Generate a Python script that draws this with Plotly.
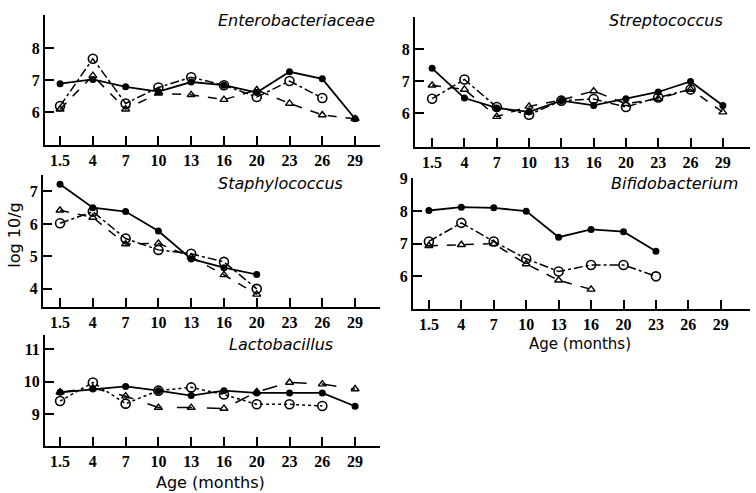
import plotly.graph_objects as go

ages = ["1.5", "4", "7", "10", "13", "16", "20", "23", "26", "29"]

entero_filled = [6.9, 7.03, 6.8, 6.65, 6.95, 6.85, 6.62, 7.27, 7.05, 5.8]
entero_open = [6.2, 7.68, 6.28, 6.78, 7.1, 6.85, 6.48, 6.98, 6.45]
entero_tri = [6.1, 7.15, 6.1, 6.6, 6.55, 6.4, 6.7, 6.28, 5.92, 5.8]

strep_filled = [7.41, 6.48, 6.17, 6.05, 6.4, 6.25, 6.46, 6.67, 7.0, 6.25]
strep_open = [6.46, 7.06, 6.2, 5.96, 6.4, 6.45, 6.2, 6.5, 6.75]
strep_tri = [6.88, 6.75, 5.9, 6.22, 6.42, 6.7, 6.3, 6.46, 6.75, 6.04]

staph_filled = [7.22, 6.5, 6.38, 5.78, 4.92, 4.65, 4.44]
staph_open = [6.02, 6.38, 5.55, 5.2, 5.08, 4.83, 4.0]
staph_tri = [6.42, 6.2, 5.38, 5.4, 4.98, 4.43, 3.83]

bifido_filled = [8.02, 8.12, 8.1, 8.0, 7.2, 7.44, 7.37, 6.77]
bifido_open = [7.07, 7.64, 7.07, 6.54, 6.15, 6.35, 6.35, 6.0]
bifido_tri = [6.94, 6.97, 7.0, 6.38, 5.88, 5.6]

lacto_filled = [9.67, 9.77, 9.85, 9.72, 9.57, 9.72, 9.65, 9.65, 9.65, 9.24]
lacto_open = [9.4, 9.97, 9.32, 9.72, 9.82, 9.6, 9.3, 9.3, 9.25]
lacto_tri = [9.67, 9.8, 9.55, 9.2, 9.2, 9.17, 9.68, 9.97, 9.92, 9.77]

titles = ["Enterobacteriaceae", "Streptococcus", "Staphylococcus", "Bifidobacterium", "Lactobacillus"]
y_ticks = [[6, 7, 8], [6, 7, 8], [4, 5, 6, 7], [6, 7, 8, 9], [9, 10, 11]]

W, H = 756, 493

# panel boxes in page pixels: (x0, x1), (ytop, ybottom), x range, y range
panels = [
    dict(px=(45, 380), py=(8, 140), xr=[-0.46, 9.76], yr=[4.98, 9.05],
         data=(entero_filled, entero_open, entero_tri), title_xy=(377, 14), odash="dashdot", tdash="dash"),
    dict(px=(415, 750), py=(10, 142), xr=[-0.53, 9.84], yr=[4.95, 9.02],
         data=(strep_filled, strep_open, strep_tri), title_xy=(725, 14), odash="dashdot", tdash="dash"),
    dict(px=(43, 380), py=(170, 304), xr=[-0.52, 9.76], yr=[3.45, 7.52],
         data=(staph_filled, staph_open, staph_tri), title_xy=(345, 179), odash="dashdot", tdash="dash"),
    dict(px=(413, 750), py=(173, 306), xr=[-0.49, 9.9], yr=[5.01, 9.03],
         data=(bifido_filled, bifido_open, bifido_tri), title_xy=(740, 179), odash="dashdot", tdash="dash"),
    dict(px=(45, 380), py=(333, 445), xr=[-0.46, 9.76], yr=[8.03, 11.42],
         data=(lacto_filled, lacto_open, lacto_tri), title_xy=(335, 342), odash="dot", tdash="longdash"),
]


def fx(px):
    return px / W


def fy(py):
    return 1 - py / H


fig = go.Figure()
tickfont = dict(family="Liberation Serif", size=16, color="black", weight="bold")
annotations = []

for i, p in enumerate(panels):
    n = "" if i == 0 else str(i + 1)
    xa, ya = "x" + n, "y" + n
    filled, opn, tri = p["data"]
    fig.add_trace(go.Scatter(x=ages[:len(filled)], y=filled, xaxis=xa, yaxis=ya, mode="lines+markers",
                             line=dict(color="black", width=1.8),
                             marker=dict(symbol="circle", size=7, color="black"), showlegend=False))
    fig.add_trace(go.Scatter(x=ages[:len(opn)], y=opn, xaxis=xa, yaxis=ya, mode="lines+markers",
                             line=dict(color="black", width=1.5, dash=p["odash"]),
                             marker=dict(symbol="circle-open", size=9, color="black", line=dict(width=1.6)),
                             showlegend=False))
    fig.add_trace(go.Scatter(x=ages[:len(tri)], y=tri, xaxis=xa, yaxis=ya, mode="lines+markers",
                             line=dict(color="black", width=1.5, dash=p["tdash"]),
                             marker=dict(symbol="triangle-up-open", size=7, color="black", line=dict(width=1.4)),
                             showlegend=False))
    x0, x1 = p["px"]
    yt, yb = p["py"]
    fig.layout["xaxis" + n] = dict(
        domain=[fx(x0), fx(x1)], anchor=ya, type="category", categoryorder="array", categoryarray=ages,
        range=p["xr"], showline=True, linecolor="black", linewidth=2, ticks="inside", ticklen=9,
        tickwidth=2, tickcolor="black", showgrid=False, zeroline=False, tickfont=tickfont,
        ticklabelstandoff=0)
    fig.layout["yaxis" + n] = dict(
        domain=[fy(yb), fy(yt)], anchor=xa, range=p["yr"], tickvals=y_ticks[i],
        showline=True, linecolor="black", linewidth=2, ticks="inside", ticklen=9, tickwidth=2,
        tickcolor="black", showgrid=False, zeroline=False, tickfont=tickfont)
    tx, ty = p["title_xy"]
    annotations.append(dict(text=titles[i], x=fx(tx), y=fy(ty), xref="paper", yref="paper",
                            xanchor="right", yanchor="middle", showarrow=False,
                            font=dict(family="DejaVu Sans", size=16, color="black", style="italic")))

annotations.append(dict(text="Age (months)", x=fx(580), y=fy(342), xref="paper", yref="paper",
                        xanchor="center", yanchor="middle",
                        showarrow=False, font=dict(family="DejaVu Sans", size=15, color="black")))
annotations.append(dict(text="Age (months)", x=fx(210), y=fy(482), xref="paper", yref="paper",
                        xanchor="center", yanchor="middle",
                        showarrow=False, font=dict(family="DejaVu Sans", size=16, color="black")))
annotations.append(dict(text="log 10/g", x=fx(15), y=fy(232), xref="paper", yref="paper",
                        xanchor="center", yanchor="middle",
                        showarrow=False, textangle=-90,
                        font=dict(family="DejaVu Sans", size=16, color="black")))

fig.update_layout(width=W, height=H, margin=dict(l=0, r=0, t=0, b=0), paper_bgcolor="white",
                  plot_bgcolor="white", annotations=annotations, hovermode=False)

fig.write_html("out.html", config={"displayModeBar": False},
               post_script="document.body.style.margin='0px';document.body.style.overflow='hidden';")
